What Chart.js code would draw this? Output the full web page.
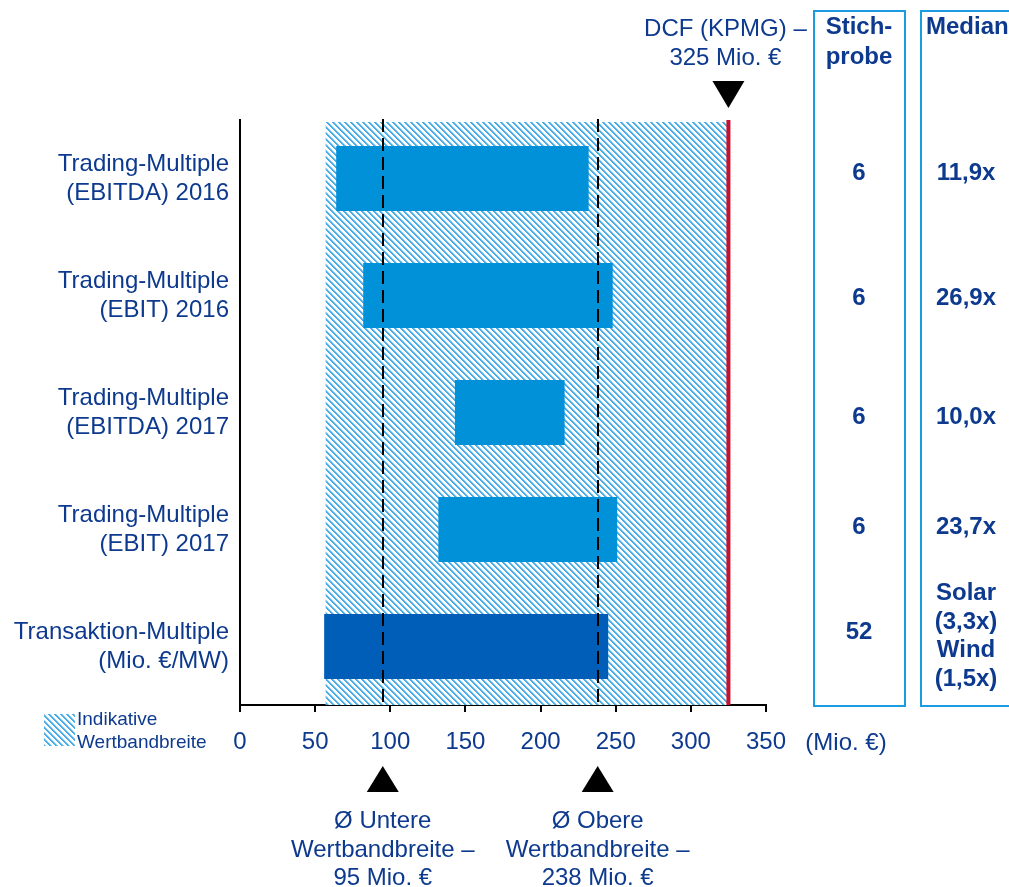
<!DOCTYPE html>
<html><head><meta charset="utf-8">
<script src="https://cdn.jsdelivr.net/npm/chart.js@4"></script>
<style>
body{margin:0;width:1009px;height:887px;overflow:hidden;background:#fff;font-family:"Liberation Sans",Arial,sans-serif;color:#0d3a8e;position:relative}
#c{position:absolute;left:0;top:0}
.t{position:absolute;font-size:24px;line-height:28.5px;text-align:center;white-space:nowrap}
.b{font-weight:bold;font-size:24px}
.box{position:absolute;border:2px solid #1b9be0;box-sizing:border-box}
</style></head><body>
<canvas id="c" width="1009" height="887"></canvas>
<div class="box" style="left:813px;top:10px;width:93px;height:697px"></div>
<div class="box" style="left:920px;top:10px;width:100px;height:697px"></div>
<div id="overlay"></div>
<script>
// ---- data ----
const categories = [
  ["Trading-Multiple", "(EBITDA) 2016"],
  ["Trading-Multiple", "(EBIT) 2016"],
  ["Trading-Multiple", "(EBITDA) 2017"],
  ["Trading-Multiple", "(EBIT) 2017"],
  ["Transaktion-Multiple", "(Mio. €/MW)"]
];
const rangeStart = [64, 82, 143, 132, 56];
const rangeEnd   = [232, 248, 216, 251, 245];
const xTicks = [0, 50, 100, 150, 200, 250, 300, 350];
const valueBand = [57, 325];       // Indikative Wertbandbreite
const avgLower = 95;               // Ø Untere Wertbandbreite
const avgUpper = 238;              // Ø Obere Wertbandbreite
const dcfValue = 325;              // DCF (KPMG)
const sampleSizes = ["6", "6", "6", "6", "52"];
const medians = ["11,9x", "26,9x", "10,0x", "23,7x", "Solar<br>(3,3x)<br>Wind<br>(1,5x)"];

// ---- styles ----
const TXT = '#0d3a8e';
const FONT = '"Liberation Sans", Arial, sans-serif';
const barColors = ['#0091d9', '#0091d9', '#0091d9', '#0091d9', '#005eb8'];

// hatch pattern
function makePattern() {
  const N = 6;
  const p = document.createElement('canvas');
  p.width = N; p.height = N;
  const g = p.getContext('2d');
  const img = g.createImageData(N, N);
  for (let y = 0; y < N; y++) for (let x = 0; x < N; x++) {
    const d = ((x - y) % N + N) % N;
    let c = [255, 255, 255];
    if (d === 0 || d === 1) c = [74, 174, 228];
    else if (d === 2) c = [160, 212, 242];
    const i = (y * N + x) * 4;
    img.data[i] = c[0]; img.data[i + 1] = c[1]; img.data[i + 2] = c[2]; img.data[i + 3] = 255;
  }
  g.putImageData(img, 0, 0);
  return g.createPattern(p, 'repeat');
}

const ctx = document.getElementById('c').getContext('2d');
const hatch = makePattern();

const annotations = {
  id: 'annotations',
  beforeDatasetsDraw(chart) {
    const { ctx, chartArea: a, scales: { x } } = chart;
    const x1 = x.getPixelForValue(valueBand[0]);
    const x2 = x.getPixelForValue(valueBand[1]);
    ctx.save();
    ctx.fillStyle = hatch;
    ctx.fillRect(x1, a.top + 2, x2 - x1, a.bottom - a.top - 2);
    ctx.restore();
  },
  afterDatasetsDraw(chart) {
    const { ctx, chartArea: a, scales: { x } } = chart;
    ctx.save();
    // dashed average lines
    ctx.strokeStyle = '#000';
    ctx.lineWidth = 2;
    ctx.setLineDash([13, 6]);
    [avgLower, avgUpper].forEach(v => {
      const px = Math.round(x.getPixelForValue(v));
      ctx.beginPath();
      ctx.moveTo(px, a.top - 1);
      ctx.lineTo(px, a.bottom);
      ctx.stroke();
    });
    ctx.setLineDash([]);
    // DCF line
    const dx = x.getPixelForValue(dcfValue);
    ctx.strokeStyle = '#c8102e';
    ctx.lineWidth = 4;
    ctx.beginPath();
    ctx.moveTo(dx, a.top);
    ctx.lineTo(dx, a.bottom);
    ctx.stroke();
    // triangles
    ctx.fillStyle = '#000';
    [avgLower, avgUpper].forEach(v => {
      const px = x.getPixelForValue(v);
      ctx.beginPath();
      ctx.moveTo(px, a.bottom + 61);
      ctx.lineTo(px + 16, a.bottom + 87);
      ctx.lineTo(px - 16, a.bottom + 87);
      ctx.closePath();
      ctx.fill();
    });
    ctx.beginPath();
    ctx.moveTo(dx - 16, a.top - 39);
    ctx.lineTo(dx + 16, a.top - 39);
    ctx.lineTo(dx, a.top - 12);
    ctx.closePath();
    ctx.fill();
    // legend swatch
    ctx.fillStyle = hatch;
    ctx.fillRect(44, 714, 31, 32);
    ctx.restore();
  }
};

const chart = new Chart(ctx, {
  type: 'bar',
  data: {
    labels: categories,
    datasets: [{
      data: categories.map((c, i) => [rangeStart[i], rangeEnd[i]]),
      backgroundColor: barColors,
      borderWidth: 0,
      borderSkipped: false,
      barPercentage: 0.555,
      categoryPercentage: 1
    }]
  },
  options: {
    indexAxis: 'y',
    responsive: false,
    animation: false,
    events: [],
    layout: { padding: { top: 120, right: 243, left: 0, bottom: 0 } },
    plugins: { legend: { display: false }, tooltip: { enabled: false } },
    scales: {
      x: {
        type: 'linear', min: 0, max: 350,
        afterBuildTicks: a => { a.ticks = xTicks.map(v => ({ value: v })); },
        grid: { display: true, drawOnChartArea: false, drawTicks: true, tickLength: 7, color: '#000', lineWidth: 2 },
        border: { display: true, color: '#000', width: 2 },
        ticks: { color: TXT, font: { family: FONT, size: 24 }, padding: 16, maxRotation: 0, autoSkip: false },
        afterFit: a => { a.height = 182; }
      },
      y: {
        grid: { display: true, drawOnChartArea: false, drawTicks: false, color: 'rgba(0,0,0,0)' },
        border: { display: true, color: '#000', width: 2 },
        ticks: { color: TXT, font: { family: FONT, size: 24, lineHeight: 1.2 }, padding: 11 },
        afterFit: a => { a.width = 240; }
      }
    }
  },
  plugins: [annotations]
});

// ---- text overlays ----
const ov = document.getElementById('overlay');
function addText(html, cx, top, cls, w) {
  const d = document.createElement('div');
  d.className = 't ' + (cls || '');
  w = w || 260;
  d.style.left = (cx - w / 2) + 'px';
  d.style.width = w + 'px';
  d.style.top = top + 'px';
  d.innerHTML = html;
  ov.appendChild(d);
  return d;
}
const xs = chart.scales.x;
addText('DCF (KPMG) –<br>325 Mio. €', xs.getPixelForValue(dcfValue) - 3, 14);
addText('Ø Untere<br>Wertbandbreite –<br>95 Mio. €', xs.getPixelForValue(avgLower), 806);
addText('Ø Obere<br>Wertbandbreite –<br>238 Mio. €', xs.getPixelForValue(avgUpper), 806);
addText('(Mio. €)', 846, 728);
const leg = addText('Indikative<br>Wertbandbreite', 0, 707);
leg.style.left = '77px'; leg.style.width = 'auto'; leg.style.textAlign = 'left';
leg.style.fontSize = '19px'; leg.style.lineHeight = '23px';
addText('Stich-<br>probe', 859, 11, 'b', 100).style.lineHeight = '30px';
const med = addText('Median', 0, 11, 'b');
med.style.left = '926px'; med.style.width = 'auto'; med.style.textAlign = 'left'; med.style.lineHeight = '30px';
const rowY = [172, 297, 416, 526, 631];
sampleSizes.forEach((s, i) => addText(s, 859, rowY[i] - 14, 'b', 100));
medians.forEach((m, i) => {
  const top = i === 4 ? 578 : rowY[i] - 14;
  addText(m, 966, top, 'b', 100);
});
</script>
</body></html>
